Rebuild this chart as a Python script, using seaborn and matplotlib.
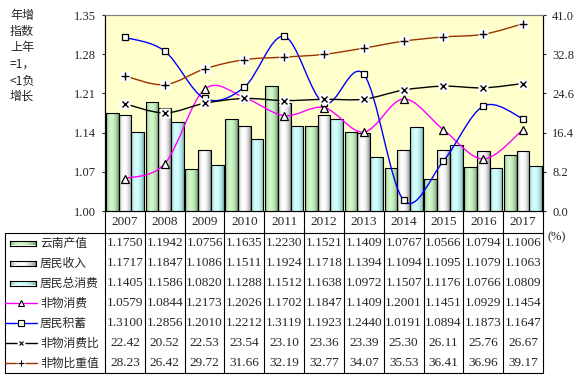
import numpy as np
import pandas as pd
import matplotlib
matplotlib.use("Agg")
import matplotlib.pyplot as plt
import matplotlib.transforms as mtransforms
from matplotlib.path import Path
from matplotlib.patches import PathPatch
from matplotlib.lines import Line2D
from matplotlib.colors import to_rgb
import seaborn as sns

years = ["2007", "2008", "2009", "2010", "2011", "2012", "2013", "2014", "2015", "2016", "2017"]
yunnan_output = [1.1750, 1.1942, 1.0756, 1.1635, 1.2230, 1.1521, 1.1409, 1.0767, 1.0566, 1.0794, 1.1006]
resident_income = [1.1717, 1.1847, 1.1086, 1.1511, 1.1924, 1.1718, 1.1394, 1.1094, 1.1095, 1.1079, 1.1063]
total_consumption = [1.1405, 1.1586, 1.0820, 1.1288, 1.1512, 1.1638, 1.0972, 1.1507, 1.1176, 1.0766, 1.0809]
nonmaterial_consumption = [1.0579, 1.0844, 1.2173, 1.2026, 1.1702, 1.1847, 1.1409, 1.2001, 1.1451, 1.0929, 1.1454]
resident_savings = [1.3100, 1.2856, 1.2010, 1.2212, 1.3119, 1.1923, 1.2440, 1.0191, 1.0894, 1.1873, 1.1647]
nonmaterial_ratio = [22.42, 20.52, 22.53, 23.54, 23.10, 23.36, 23.39, 25.30, 26.11, 25.76, 26.67]
nonmaterial_share = [28.23, 26.42, 29.72, 31.66, 32.19, 32.77, 34.07, 35.53, 36.41, 36.96, 39.17]

bar_names = ["云南产值", "居民收入", "居民总消费"]
line_names = ["非物消费", "居民积蓄", "非物消费比", "非物比重值"]
left_ticks = [1.00, 1.07, 1.14, 1.21, 1.28, 1.35]
right_ticks = [0.0, 8.2, 16.4, 24.6, 32.8, 41.0]

SERIF = "Liberation Serif"
CJK = ["Noto Sans CJK SC", "DejaVu Sans"]

# gradient (edge colour, centre colour) for each bar series
bar_grad = [("#5c8c5c", "#d2f7ca"), ("#7a7a7a", "#ffffff"), ("#6ea6a6", "#d4ffff")]
line_style = {
    "非物消费": dict(color="#ff00ff", marker="^", ms=6.0, key_ms=4.5, axis="left"),
    "居民积蓄": dict(color="#0000ff", marker="s", ms=5.0, key_ms=4.0, axis="left"),
    "非物消费比": dict(color="#000000", marker="x", ms=4.5, key_ms=3.0, axis="right"),
    "非物比重值": dict(color="#993300", marker="+", ms=6.0, key_ms=4.0, axis="right"),
}

W, H = 582, 379
sns.set_theme(style="white")
plt.rcParams["font.family"] = CJK

fig = plt.figure(figsize=(W / 100, H / 100), dpi=100)
fig.patch.set_facecolor("white")


def fx(px):
    return px / W


def fy(py):
    return 1 - py / H


L, R, T, B = 105, 543, 15, 211
ax = fig.add_axes([fx(L), fy(B), fx(R) - fx(L), fy(T) - fy(B)])
ax.set_facecolor("#ffffcc")

# ---- bars ----
bar_df = pd.DataFrame({
    "year": years * 3,
    "value": yunnan_output + resident_income + total_consumption,
    "series": sum([[n] * len(years) for n in bar_names], []),
})
sns.barplot(data=bar_df, x="year", y="value", hue="series", hue_order=bar_names,
            palette=[g[1] for g in bar_grad], width=0.96, edgecolor="black",
            linewidth=0.8, legend=False, saturation=1, ax=ax)

t = np.linspace(0, 1, 64)
prof = np.sin(np.pi * t ** 0.8) ** 0.6


def grad_img(edge, centre):
    e, c = np.array(to_rgb(edge)), np.array(to_rgb(centre))
    return (e[None, :] + (c - e)[None, :] * prof[:, None])[None, :, :]


ymin = left_ticks[0]
for cont, (edge, centre) in zip(ax.containers, bar_grad):
    img = grad_img(edge, centre)
    for bar in cont:
        x0 = bar.get_x()
        w = bar.get_width()
        h = bar.get_height()
        im = ax.imshow(img, extent=[x0, x0 + w, ymin, h], aspect="auto",
                       interpolation="bilinear", zorder=1.5)
        im.set_clip_path(bar)
        bar.set_facecolor("none")
        bar.set_zorder(2)

ax.set_xlim(-0.5, len(years) - 0.5)
ax.set_ylim(left_ticks[0], left_ticks[-1])

ax2 = ax.twinx()
ax2.set_ylim(right_ticks[0], right_ticks[-1])


def smooth_path(xs, ys):
    pts = np.column_stack([xs, ys]).astype(float)
    n = len(pts)
    verts, codes = [pts[0]], [Path.MOVETO]
    for i in range(n - 1):
        p0 = pts[i - 1] if i > 0 else pts[i]
        p1, p2 = pts[i], pts[i + 1]
        p3 = pts[i + 2] if i + 2 < n else pts[i + 1]
        verts += [p1 + (p2 - p0) / 6, p2 - (p3 - p1) / 6, p2]
        codes += [Path.CURVE4] * 3
    return Path(verts, codes)


xpos = np.arange(len(years))
line_values = {
    "非物消费": nonmaterial_consumption,
    "居民积蓄": resident_savings,
    "非物消费比": nonmaterial_ratio,
    "非物比重值": nonmaterial_share,
}
for name in line_names:
    st = line_style[name]
    a = ax if st["axis"] == "left" else ax2
    vals = line_values[name]
    a.add_patch(PathPatch(smooth_path(xpos, vals), facecolor="none",
                          edgecolor=st["color"], lw=1.0, zorder=3))
    if st["marker"] in ("x", "+"):
        a.plot(xpos, vals, "s", ms=7, mfc="white", mec="none", zorder=4)
        a.plot(xpos, vals, st["marker"], ms=st["ms"], color="black", mew=1.0, zorder=5)
    else:
        a.plot(xpos, vals, st["marker"], ms=st["ms"], mfc="white", mec="black",
               mew=0.9, zorder=5)

# ---- axes styling ----
for a in (ax, ax2):
    a.set_xlabel("")
    a.set_ylabel("")
    a.grid(False)
    for s in a.spines.values():
        s.set_color("black")
        s.set_linewidth(0.8)
    a.spines["top"].set_color("#808080")
ax.set_xticks([])
ax.set_yticks(left_ticks)
ax.set_yticklabels([f"{v:.2f}" for v in left_ticks], fontfamily=SERIF, fontsize=9)
ax2.set_yticks(right_ticks)
ax2.set_yticklabels([f"{v:.1f}" for v in right_ticks], fontfamily=SERIF, fontsize=9)
ax.tick_params(axis="y", direction="out", length=2.5, width=0.8, pad=4, left=True)
ax2.tick_params(axis="y", direction="out", length=2.5, width=0.8, pad=4, right=True)

fig.text(fx(10), fy(9), "年增\n指数\n上年\n=1，\n<1负\n增长", fontsize=8.7,
         va="top", ha="left", linespacing=1.32, family=CJK)
fig.text(fx(548), fy(237), "(%)", fontsize=9, va="center", ha="left", family=SERIF)

# ---- data table below the plot ----
tr = mtransforms.blended_transform_factory(ax.transData, fig.transFigure)
ft = fig.transFigure
lk = dict(color="black", lw=0.8, clip_on=False)

for i in range(len(years) + 1):
    ax.add_line(Line2D([i - 0.5, i - 0.5], [fy(B), fy(373)], transform=tr, **lk))
fig.add_artist(Line2D([fx(5), fx(R)], [fy(233), fy(233)], transform=ft, **lk))
fig.add_artist(Line2D([fx(5), fx(R)], [fy(373), fy(373)], transform=ft, **lk))
fig.add_artist(Line2D([fx(5), fx(5)], [fy(233), fy(373)], transform=ft, **lk))

for i, y in enumerate(years):
    ax.text(i, fy(222), y, transform=tr, ha="center", va="center",
            fontsize=9.5, fontfamily=SERIF, clip_on=False)

rows = [yunnan_output, resident_income, total_consumption,
        nonmaterial_consumption, resident_savings, nonmaterial_ratio, nonmaterial_share]
row_names = bar_names + line_names
row_y = [243 + 20 * k for k in range(len(rows))]
for k, (vals, name, yc) in enumerate(zip(rows, row_names, row_y)):
    fmt = "{:.4f}" if k < 5 else "{:.2f}"
    for i, v in enumerate(vals):
        ax.text(i, fy(yc), fmt.format(v), transform=tr, ha="center", va="center",
                fontsize=9.5, fontfamily=SERIF, clip_on=False)
    fig.text(fx(40), fy(yc), name, fontsize=8.5, va="center", ha="left", family=CJK)
    # legend key
    if k < 3:
        kax = fig.add_axes([fx(10), fy(yc + 2.5), fx(36) - fx(10), fy(yc - 2.5) - fy(yc + 2.5)])
        kax.imshow(grad_img(*bar_grad[k]), aspect="auto", extent=[0, 1, 0, 1],
                   interpolation="bilinear")
        kax.set_xticks([])
        kax.set_yticks([])
        for s in kax.spines.values():
            s.set_color("black")
            s.set_linewidth(0.8)
    else:
        st = line_style[name]
        fig.add_artist(Line2D([fx(5), fx(37)], [fy(yc), fy(yc)], transform=ft,
                              color=st["color"], lw=1.0))
        if st["marker"] in ("x", "+"):
            fig.add_artist(Line2D([fx(21)], [fy(yc)], transform=ft, marker="s", ms=6,
                                  mfc="white", mec="none", ls="none"))
            fig.add_artist(Line2D([fx(21)], [fy(yc)], transform=ft, marker=st["marker"],
                                  ms=st["key_ms"], color="black", mew=0.8, ls="none"))
        else:
            fig.add_artist(Line2D([fx(21)], [fy(yc)], transform=ft, marker=st["marker"],
                                  ms=st["key_ms"], mfc="white", mec="black",
                                  mew=0.8, ls="none"))

fig.savefig("out.png", dpi=100)
